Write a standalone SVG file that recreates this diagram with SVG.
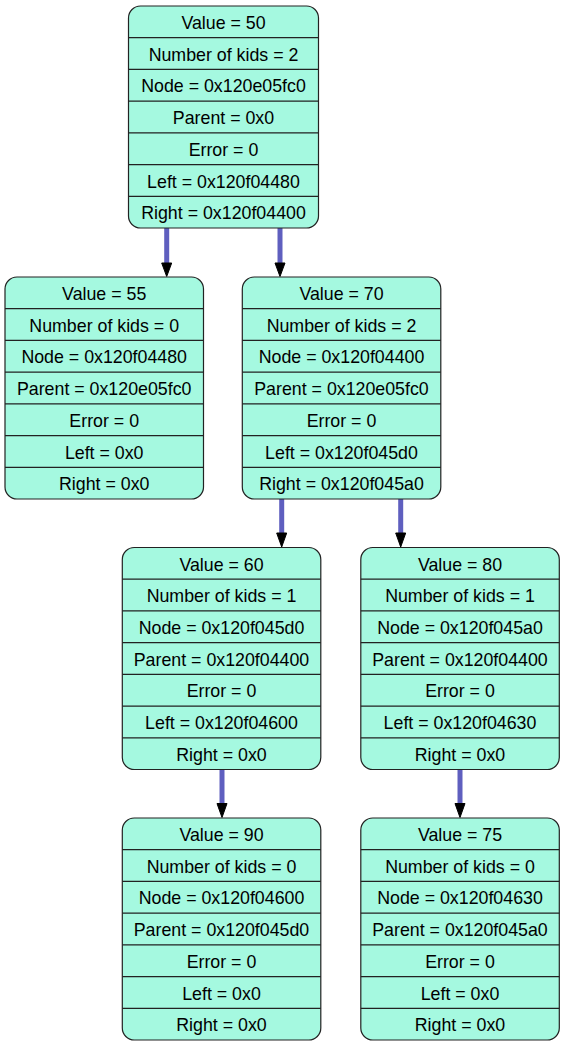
<svg xmlns="http://www.w3.org/2000/svg" width="566" height="1047" viewBox="0 0 566 1047">
<style>
.box{fill:#a5f9e0;stroke:#222;stroke-width:1.2}
.sep{stroke:#222;stroke-width:1.2}
text{font-family:"Liberation Sans",Arial,sans-serif;font-size:17.8px;fill:#000;text-anchor:middle}
.edge{stroke:#5f5fbf;stroke-width:5;fill:none}
.head{fill:#000;stroke:#000;stroke-width:1}
</style>
<rect width="566" height="1047" fill="#fff"/>
<g id="connectors">
<line class="edge" x1="166.7" y1="228" x2="166.7" y2="263"/>
<polygon class="head" points="161.7,263 171.7,263 166.7,276.5"/>
<line class="edge" x1="280" y1="228" x2="280" y2="263"/>
<polygon class="head" points="275,263 285,263 280,276.5"/>
<line class="edge" x1="281.7" y1="499" x2="281.7" y2="533"/>
<polygon class="head" points="276.7,533 286.7,533 281.7,547"/>
<line class="edge" x1="400.7" y1="499" x2="400.7" y2="533"/>
<polygon class="head" points="395.7,533 405.7,533 400.7,547"/>
<line class="edge" x1="222" y1="769" x2="222" y2="803.5"/>
<polygon class="head" points="217,803.5 227,803.5 222,817.5"/>
<line class="edge" x1="460" y1="769" x2="460" y2="803.5"/>
<polygon class="head" points="455,803.5 465,803.5 460,817.5"/>
</g>
<g id="node50" transform="translate(128.5,6)">
<rect class="box" x="0" y="0" width="190" height="222" rx="12"/>
<path class="sep" d="M0,31.7H190M0,63.4H190M0,95.1H190M0,126.9H190M0,158.6H190M0,190.3H190"/>
<text x="95" y="23">Value = 50</text>
<text x="95" y="54.7">Number of kids = 2</text>
<text x="95" y="86.4">Node = 0x120e05fc0</text>
<text x="95" y="118.1">Parent = 0x0</text>
<text x="95" y="149.8">Error = 0</text>
<text x="95" y="181.5">Left = 0x120f04480</text>
<text x="95" y="213.2">Right = 0x120f04400</text>
</g>
<g id="node55" transform="translate(5,277)">
<rect class="box" x="0" y="0" width="198.5" height="222" rx="12"/>
<path class="sep" d="M0,31.7H198.5M0,63.4H198.5M0,95.1H198.5M0,126.9H198.5M0,158.6H198.5M0,190.3H198.5"/>
<text x="99.2" y="23">Value = 55</text>
<text x="99.2" y="54.7">Number of kids = 0</text>
<text x="99.2" y="86.4">Node = 0x120f04480</text>
<text x="99.2" y="118.1">Parent = 0x120e05fc0</text>
<text x="99.2" y="149.8">Error = 0</text>
<text x="99.2" y="181.5">Left = 0x0</text>
<text x="99.2" y="213.2">Right = 0x0</text>
</g>
<g id="node70" transform="translate(242.3,277)">
<rect class="box" x="0" y="0" width="198.5" height="222" rx="12"/>
<path class="sep" d="M0,31.7H198.5M0,63.4H198.5M0,95.1H198.5M0,126.9H198.5M0,158.6H198.5M0,190.3H198.5"/>
<text x="99.2" y="23">Value = 70</text>
<text x="99.2" y="54.7">Number of kids = 2</text>
<text x="99.2" y="86.4">Node = 0x120f04400</text>
<text x="99.2" y="118.1">Parent = 0x120e05fc0</text>
<text x="99.2" y="149.8">Error = 0</text>
<text x="99.2" y="181.5">Left = 0x120f045d0</text>
<text x="99.2" y="213.2">Right = 0x120f045a0</text>
</g>
<g id="node60" transform="translate(122.3,547.5)">
<rect class="box" x="0" y="0" width="198.5" height="222" rx="12"/>
<path class="sep" d="M0,31.7H198.5M0,63.4H198.5M0,95.1H198.5M0,126.9H198.5M0,158.6H198.5M0,190.3H198.5"/>
<text x="99.2" y="23">Value = 60</text>
<text x="99.2" y="54.7">Number of kids = 1</text>
<text x="99.2" y="86.4">Node = 0x120f045d0</text>
<text x="99.2" y="118.1">Parent = 0x120f04400</text>
<text x="99.2" y="149.8">Error = 0</text>
<text x="99.2" y="181.5">Left = 0x120f04600</text>
<text x="99.2" y="213.2">Right = 0x0</text>
</g>
<g id="node80" transform="translate(360.8,547.5)">
<rect class="box" x="0" y="0" width="198.5" height="222" rx="12"/>
<path class="sep" d="M0,31.7H198.5M0,63.4H198.5M0,95.1H198.5M0,126.9H198.5M0,158.6H198.5M0,190.3H198.5"/>
<text x="99.2" y="23">Value = 80</text>
<text x="99.2" y="54.7">Number of kids = 1</text>
<text x="99.2" y="86.4">Node = 0x120f045a0</text>
<text x="99.2" y="118.1">Parent = 0x120f04400</text>
<text x="99.2" y="149.8">Error = 0</text>
<text x="99.2" y="181.5">Left = 0x120f04630</text>
<text x="99.2" y="213.2">Right = 0x0</text>
</g>
<g id="node90" transform="translate(122.3,818)">
<rect class="box" x="0" y="0" width="198.5" height="222" rx="12"/>
<path class="sep" d="M0,31.7H198.5M0,63.4H198.5M0,95.1H198.5M0,126.9H198.5M0,158.6H198.5M0,190.3H198.5"/>
<text x="99.2" y="23">Value = 90</text>
<text x="99.2" y="54.7">Number of kids = 0</text>
<text x="99.2" y="86.4">Node = 0x120f04600</text>
<text x="99.2" y="118.1">Parent = 0x120f045d0</text>
<text x="99.2" y="149.8">Error = 0</text>
<text x="99.2" y="181.5">Left = 0x0</text>
<text x="99.2" y="213.2">Right = 0x0</text>
</g>
<g id="node75" transform="translate(360.8,818)">
<rect class="box" x="0" y="0" width="198.5" height="222" rx="12"/>
<path class="sep" d="M0,31.7H198.5M0,63.4H198.5M0,95.1H198.5M0,126.9H198.5M0,158.6H198.5M0,190.3H198.5"/>
<text x="99.2" y="23">Value = 75</text>
<text x="99.2" y="54.7">Number of kids = 0</text>
<text x="99.2" y="86.4">Node = 0x120f04630</text>
<text x="99.2" y="118.1">Parent = 0x120f045a0</text>
<text x="99.2" y="149.8">Error = 0</text>
<text x="99.2" y="181.5">Left = 0x0</text>
<text x="99.2" y="213.2">Right = 0x0</text>
</g>
</svg>
